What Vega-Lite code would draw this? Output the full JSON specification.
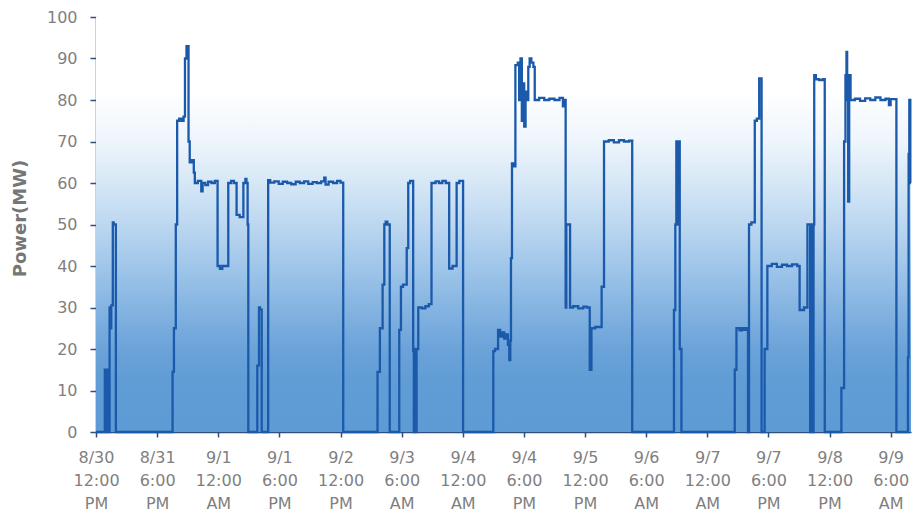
{
  "$schema": "https://vega.github.io/schema/vega-lite/v6.json",
  "width": 815,
  "height": 415,
  "autosize": "none",
  "padding": {"left": 96, "top": 17, "right": 1, "bottom": 80},
  "background": "white",
  "config": {
    "view": {"stroke": null},
    "axis": {"grid": false, "labelFont": "DejaVu Sans", "labelColor": "#7f7f7f", "labelFontSize": 16, "domainColor": "#2f4f7f", "tickColor": "#2f4f7f", "domainWidth": 1.5, "tickWidth": 1.5}
  },
  "datasets": {
    "power": [
      {"h": 0, "mw": 0}, {"h": 2.6, "mw": 15}, {"h": 3.0, "mw": 0}, {"h": 3.3, "mw": 15}, {"h": 3.8, "mw": 0},
      {"h": 4.0, "mw": 30}, {"h": 4.3, "mw": 25}, {"h": 4.5, "mw": 30.5}, {"h": 4.95, "mw": 50.5}, {"h": 5.2, "mw": 50}, {"h": 5.85, "mw": 0},
      {"h": 22.55, "mw": 14.5}, {"h": 22.95, "mw": 25}, {"h": 23.5, "mw": 50}, {"h": 23.9, "mw": 75}, {"h": 24.5, "mw": 75.5}, {"h": 25.2, "mw": 75},
      {"h": 25.8, "mw": 76}, {"h": 26.2, "mw": 90}, {"h": 26.65, "mw": 93}, {"h": 27.25, "mw": 70}, {"h": 27.6, "mw": 65}, {"h": 28.2, "mw": 65.5},
      {"h": 28.8, "mw": 62.5}, {"h": 29.1, "mw": 60}, {"h": 30, "mw": 60.5}, {"h": 31, "mw": 58}, {"h": 31.4, "mw": 60}, {"h": 32.2, "mw": 59.5},
      {"h": 33, "mw": 60.3}, {"h": 34, "mw": 60}, {"h": 35, "mw": 60.5}, {"h": 35.8, "mw": 40}, {"h": 36.5, "mw": 39.3}, {"h": 37.2, "mw": 40},
      {"h": 38.95, "mw": 60}, {"h": 39.8, "mw": 60.5}, {"h": 40.6, "mw": 60}, {"h": 41.4, "mw": 52.3}, {"h": 42.3, "mw": 51.8}, {"h": 43.4, "mw": 60},
      {"h": 44, "mw": 61}, {"h": 44.3, "mw": 60}, {"h": 44.65, "mw": 50}, {"h": 44.85, "mw": 0},
      {"h": 47.5, "mw": 16}, {"h": 48.0, "mw": 30}, {"h": 48.3, "mw": 29.5}, {"h": 48.8, "mw": 0},
      {"h": 50.7, "mw": 60.7}, {"h": 51.3, "mw": 60.1}, {"h": 52.5, "mw": 60.4}, {"h": 53.8, "mw": 59.8}, {"h": 55, "mw": 60.3}, {"h": 56.3, "mw": 60},
      {"h": 57.5, "mw": 59.7}, {"h": 58.8, "mw": 60.3}, {"h": 60, "mw": 60}, {"h": 61.3, "mw": 60.4}, {"h": 62.5, "mw": 59.8}, {"h": 63.8, "mw": 60.2},
      {"h": 65, "mw": 60}, {"h": 66.3, "mw": 60.4}, {"h": 67.2, "mw": 61.3}, {"h": 67.6, "mw": 59.6}, {"h": 68.5, "mw": 60.3}, {"h": 69.8, "mw": 60},
      {"h": 71, "mw": 60.5}, {"h": 72, "mw": 60.1}, {"h": 72.8, "mw": 0},
      {"h": 82.9, "mw": 14.5}, {"h": 83.6, "mw": 25}, {"h": 84.4, "mw": 35.5}, {"h": 84.9, "mw": 50}, {"h": 85.3, "mw": 50.7}, {"h": 85.8, "mw": 50}, {"h": 86.5, "mw": 0},
      {"h": 89.3, "mw": 24.6}, {"h": 89.8, "mw": 35}, {"h": 90.4, "mw": 35.5}, {"h": 91.5, "mw": 44.3}, {"h": 91.95, "mw": 60}, {"h": 92.5, "mw": 60.5},
      {"h": 93.4, "mw": 19.5}, {"h": 93.6, "mw": 0}, {"h": 93.9, "mw": 20}, {"h": 94.1, "mw": 0}, {"h": 94.4, "mw": 20}, {"h": 94.9, "mw": 30},
      {"h": 96, "mw": 29.8}, {"h": 97, "mw": 30.3}, {"h": 98, "mw": 30.8}, {"h": 98.8, "mw": 60}, {"h": 100, "mw": 60.4}, {"h": 101, "mw": 60},
      {"h": 102, "mw": 60.5}, {"h": 103, "mw": 60}, {"h": 104, "mw": 39.4}, {"h": 105, "mw": 40}, {"h": 106.2, "mw": 60}, {"h": 107, "mw": 60.5}, {"h": 108.1, "mw": 0},
      {"h": 117, "mw": 19.5}, {"h": 117.5, "mw": 20}, {"h": 118.4, "mw": 24.6}, {"h": 119, "mw": 23}, {"h": 119.6, "mw": 24}, {"h": 120.2, "mw": 22.5},
      {"h": 120.8, "mw": 23.5}, {"h": 121.3, "mw": 21}, {"h": 121.7, "mw": 17.3}, {"h": 122.0, "mw": 22}, {"h": 122.2, "mw": 41.9}, {"h": 122.5, "mw": 64.7},
      {"h": 123, "mw": 64}, {"h": 123.5, "mw": 88.4}, {"h": 124.2, "mw": 89}, {"h": 124.6, "mw": 80}, {"h": 125, "mw": 90}, {"h": 125.4, "mw": 75},
      {"h": 125.8, "mw": 84}, {"h": 126.1, "mw": 73.6}, {"h": 126.5, "mw": 82}, {"h": 126.9, "mw": 80}, {"h": 127.3, "mw": 88}, {"h": 127.7, "mw": 90},
      {"h": 128.2, "mw": 89}, {"h": 128.8, "mw": 88}, {"h": 129.2, "mw": 80}, {"h": 130.5, "mw": 80.5}, {"h": 132, "mw": 80}, {"h": 133.5, "mw": 80.3},
      {"h": 135, "mw": 80}, {"h": 136.5, "mw": 80.5}, {"h": 137.5, "mw": 78.5}, {"h": 137.9, "mw": 80}, {"h": 138.3, "mw": 30}, {"h": 138.5, "mw": 50},
      {"h": 139.6, "mw": 30}, {"h": 140.5, "mw": 30.3}, {"h": 142, "mw": 29.8}, {"h": 143.5, "mw": 30.2}, {"h": 144.5, "mw": 30}, {"h": 145.4, "mw": 15},
      {"h": 145.9, "mw": 25}, {"h": 147, "mw": 25.3}, {"h": 148.9, "mw": 35}, {"h": 149.6, "mw": 70}, {"h": 151, "mw": 70.3}, {"h": 152.5, "mw": 69.8},
      {"h": 154, "mw": 70.3}, {"h": 155.5, "mw": 70}, {"h": 157, "mw": 70.2}, {"h": 157.9, "mw": 0},
      {"h": 170.2, "mw": 29.4}, {"h": 170.6, "mw": 50}, {"h": 170.9, "mw": 70}, {"h": 171.2, "mw": 50}, {"h": 171.4, "mw": 70}, {"h": 171.9, "mw": 20}, {"h": 172.4, "mw": 0},
      {"h": 188.1, "mw": 15}, {"h": 188.6, "mw": 25}, {"h": 189.5, "mw": 24.5}, {"h": 190.2, "mw": 25}, {"h": 190.8, "mw": 24.6}, {"h": 191.5, "mw": 25},
      {"h": 192, "mw": 0}, {"h": 192.3, "mw": 50}, {"h": 193, "mw": 50.5}, {"h": 194, "mw": 75}, {"h": 194.6, "mw": 75.5}, {"h": 195.3, "mw": 85.2}, {"h": 196, "mw": 0},
      {"h": 196.9, "mw": 20}, {"h": 197.7, "mw": 40}, {"h": 199, "mw": 40.5}, {"h": 200.5, "mw": 39.8}, {"h": 202, "mw": 40.3}, {"h": 203.5, "mw": 40},
      {"h": 205, "mw": 40.4}, {"h": 206.5, "mw": 40}, {"h": 207.2, "mw": 29.4}, {"h": 208.5, "mw": 30}, {"h": 209.5, "mw": 50}, {"h": 210.3, "mw": 0},
      {"h": 210.6, "mw": 50}, {"h": 211.0, "mw": 0}, {"h": 211.3, "mw": 50}, {"h": 211.5, "mw": 86}, {"h": 212, "mw": 85}, {"h": 213, "mw": 84.8},
      {"h": 214, "mw": 85}, {"h": 214.6, "mw": 0},
      {"h": 219.5, "mw": 10.6}, {"h": 220.3, "mw": 70}, {"h": 220.7, "mw": 86}, {"h": 221.0, "mw": 91.6}, {"h": 221.2, "mw": 80}, {"h": 221.5, "mw": 55.5},
      {"h": 221.8, "mw": 86}, {"h": 222.2, "mw": 80}, {"h": 223.5, "mw": 80.3}, {"h": 225, "mw": 79.8}, {"h": 226.5, "mw": 80.4}, {"h": 228, "mw": 80},
      {"h": 229.5, "mw": 80.6}, {"h": 231, "mw": 80}, {"h": 232.5, "mw": 80.3}, {"h": 233.5, "mw": 78.8}, {"h": 234, "mw": 80.2}, {"h": 235.7, "mw": 0},
      {"h": 239.1, "mw": 18}, {"h": 239.3, "mw": 67}, {"h": 239.5, "mw": 80}, {"h": 239.8, "mw": 60}, {"h": 240, "mw": 60}
    ]
  },
  "layer": [
    {
      "data": {"values": [{"x0": 0, "x1": 240, "y0": 0, "y1": 100}]},
      "mark": {
        "type": "rect",
        "color": {
          "gradient": "linear", "x1": 0, "y1": 0, "x2": 0, "y2": 1,
          "stops": [
            {"offset": 0, "color": "#ffffff"},
            {"offset": 0.18, "color": "#ffffff"},
            {"offset": 0.3, "color": "#eef5fc"},
            {"offset": 0.4, "color": "#d6e7f6"},
            {"offset": 0.5, "color": "#bcd7f0"},
            {"offset": 0.6, "color": "#a0c6ea"},
            {"offset": 0.7, "color": "#85b4e1"},
            {"offset": 0.8, "color": "#6ba3d9"},
            {"offset": 0.88, "color": "#609cd5"},
            {"offset": 1, "color": "#5e9ad3"}
          ]
        }
      },
      "encoding": {
        "x": {"field": "x0", "type": "quantitative", "scale": {"domain": [0, 240], "nice": false, "zero": false}, "title": null},
        "x2": {"field": "x1"},
        "y": {"field": "y0", "type": "quantitative", "scale": {"domain": [0, 100], "nice": false}, "title": "Power(MW)"},
        "y2": {"field": "y1"}
      }
    },
    {
      "data": {"name": "power"},
      "mark": {"type": "line", "interpolate": "step-after", "color": "#1b5aab", "strokeWidth": 2.3},
      "encoding": {
        "x": {
          "field": "h", "type": "quantitative",
          "scale": {"domain": [0, 240], "nice": false, "zero": false},
          "title": null,
          "axis": {
            "values": [0, 18, 36, 54, 72, 90, 108, 126, 144, 162, 180, 198, 216, 234],
            "labelExpr": "[['8/30','12:00','PM'],['8/31','6:00','PM'],['9/1','12:00','AM'],['9/1','6:00','PM'],['9/2','12:00','PM'],['9/3','6:00','AM'],['9/4','12:00','AM'],['9/4','6:00','PM'],['9/5','12:00','PM'],['9/6','6:00','AM'],['9/7','12:00','AM'],['9/7','6:00','PM'],['9/8','12:00','PM'],['9/9','6:00','AM']][round(datum.value/18)]",
            "labelLineHeight": 23,
            "labelAlign": "center",
            "labelBaseline": "top",
            "labelPadding": 12,
            "tickSize": 5,
            "labelFlush": false,
            "labelOverlap": false,
            "labelBound": false
          }
        },
        "y": {
          "field": "mw", "type": "quantitative",
          "scale": {"domain": [0, 100], "nice": false},
          "title": "Power(MW)",
          "axis": {
            "values": [0, 10, 20, 30, 40, 50, 60, 70, 80, 90, 100],
            "tickSize": 6,
            "labelPadding": 13,
            "titleFont": "DejaVu Sans",
            "titleFontSize": 18,
            "titleFontWeight": "bold",
            "titleColor": "#767676",
            "titleX": -71,
            "titleY": 201,
            "titleAlign": "center",
            "titleBaseline": "alphabetic",
            "titleAngle": -90
          }
        }
      }
    }
  ]
}
